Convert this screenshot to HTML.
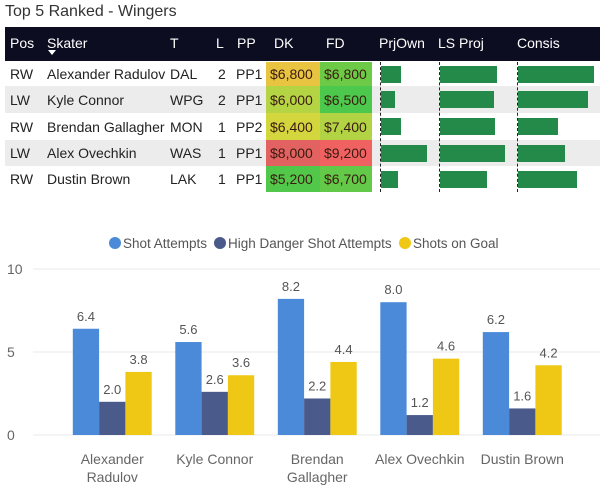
<!DOCTYPE html>
<html><head><meta charset="utf-8"><style>
body{margin:0;width:600px;height:489px;background:#fff;font-family:"Liberation Sans",sans-serif;position:relative;overflow:hidden}
.a{position:absolute}
.t{font-size:14px;color:#222;white-space:nowrap}
.h{font-size:14px;color:#fff;white-space:nowrap}
</style></head><body>
<div class="a" style="left:5px;top:3px;font-size:16px;color:#333">Top 5 Ranked - Wingers</div>
<div class="a" style="left:5px;top:27px;width:595px;height:34px;background:#0d0d22"></div>
<div id="tbl"></div>
<svg id="chart" class="a" style="left:0;top:0" width="600" height="489"></svg>
<script>
const heads=[["Pos",10],["Skater",47],["T",170],["L",216],["PP",237],["DK",274],["FD",326],["PrjOwn",379],["LS Proj",438],["Consis",517]];
const rows=[["RW","Alexander Radulov","DAL","2","PP1","$6,800","$6,800"],["LW","Kyle Connor","WPG","2","PP1","$6,000","$6,500"],["RW","Brendan Gallagher","MON","1","PP2","$6,400","$7,400"],["LW","Alex Ovechkin","WAS","1","PP1","$8,000","$9,200"],["RW","Dustin Brown","LAK","1","PP1","$5,200","$6,700"]];
const dkCol=["#e8c440","#b4d444","#d4d63e","#e26262","#52c84a"];
const fdCol=["#6cca46","#4cc84c","#b2d444","#f06262","#62ca48"];
const prjOwn=[20,14,20,46,17];
const lsProj=[57,54,55,65,47];
const consis=[76,70,40,47,59];
const rowTop=[62,86,113,140,166];
const rowH=[24,27,27,26,26];
const tb=document.getElementById('tbl');
let html='';
heads.forEach(h=>{html+=`<div class="a h" style="left:${h[1]}px;top:35px">${h[0]}</div>`});
html+=`<div class="a" style="left:48px;top:50px;width:0;height:0;border-left:4px solid transparent;border-right:4px solid transparent;border-top:5px solid #fff"></div>`;
const cx=[10,47,170,218,236];
rows.forEach((r,i)=>{
 const y=rowTop[i],hh=rowH[i];
 if(i%2==1) html+=`<div class="a" style="left:5px;top:${y}px;width:595px;height:${hh}px;background:#ececec"></div>`;
 html+=`<div class="a" style="left:266px;top:${y}px;width:54px;height:${hh}px;background:${dkCol[i]}"></div>`;
 html+=`<div class="a" style="left:320px;top:${y}px;width:52px;height:${hh}px;background:${fdCol[i]}"></div>`;
 const ty=y+hh/2-8;
 for(let c=0;c<5;c++) html+=`<div class="a t" style="left:${cx[c]}px;top:${ty}px">${r[c]}</div>`;
 html+=`<div class="a t" style="left:270px;top:${ty}px;color:#3a1a10">${r[5]}</div>`;
 html+=`<div class="a t" style="left:324px;top:${ty}px;color:#3a1a10">${r[6]}</div>`;
 const by=y+hh/2-8.5;
 html+=`<div class="a" style="left:381px;top:${by}px;width:${prjOwn[i]}px;height:17px;background:#238a4a"></div>`;
 html+=`<div class="a" style="left:440px;top:${by}px;width:${lsProj[i]}px;height:17px;background:#238a4a"></div>`;
 html+=`<div class="a" style="left:518px;top:${by}px;width:${consis[i]}px;height:17px;background:#238a4a"></div>`;
});
[380,439,517].forEach(x=>{html+=`<div class="a" style="left:${x}px;top:62px;height:130px;border-left:1px dashed #222"></div>`});
tb.innerHTML=html;

const cats=["Alexander|Radulov","Kyle Connor","Brendan|Gallagher","Alex Ovechkin","Dustin Brown"];
const shotAtt=[6.4,5.6,8.2,8.0,6.2];
const hdAtt=[2.0,2.6,2.2,1.2,1.6];
const sog=[3.8,3.6,4.4,4.6,4.2];
const yTicks=[0,5,10];
const series=[[shotAtt,"#4a8ad8","Shot Attempts"],[hdAtt,"#4a5a8a","High Danger Shot Attempts"],[sog,"#eec814","Shots on Goal"]];
const svg=document.getElementById('chart'),NS="http://www.w3.org/2000/svg";
const yS=v=>435-v*16.6;
const band=102.5,x0=61,bw=26.3;
const xC=i=>x0+band*(i+0.5);
function el(t,a,txt){const e=document.createElementNS(NS,t);for(const k in a)e.setAttribute(k,a[k]);if(txt!=null)e.textContent=txt;svg.appendChild(e);return e;}
yTicks.forEach(v=>{
 const g=el('line',{x1:33,x2:600,y1:yS(v),y2:yS(v),stroke:'#e8e8e8'});
 
 
 const t=el('text',{x:7,y:yS(v)+5,'font-size':14,fill:'#666','font-family':'Liberation Sans'},v);
 
 
});
cats.forEach((c,i)=>{
 series.forEach((s,j)=>{
  const v=s[0][i],x=xC(i)-bw*1.5+j*bw;
  const r=el('rect',{x:x,y:yS(v),width:bw,height:yS(0)-yS(v),fill:s[1]});
  
  
  const t=el('text',{x:x+bw/2,y:yS(v)-8,'text-anchor':'middle','font-size':13,fill:'#555','font-family':'Liberation Sans'},v.toFixed(1));
  
  
 });
 c.split('|').forEach((ln,k)=>{
  const t=el('text',{x:xC(i),y:464+k*18,'text-anchor':'middle','font-size':14,fill:'#666','font-family':'Liberation Sans'},ln);
  
  
 });
});
const lx=[115,220,405];
series.forEach((s,j)=>{
 const c=el('circle',{cx:lx[j],cy:243,r:6,fill:s[1]});
 
 
 const t=el('text',{x:lx[j]+8,y:248,'font-size':13.5,fill:'#555','font-family':'Liberation Sans'},s[2]);
 
 
});
</script>
</body></html>
